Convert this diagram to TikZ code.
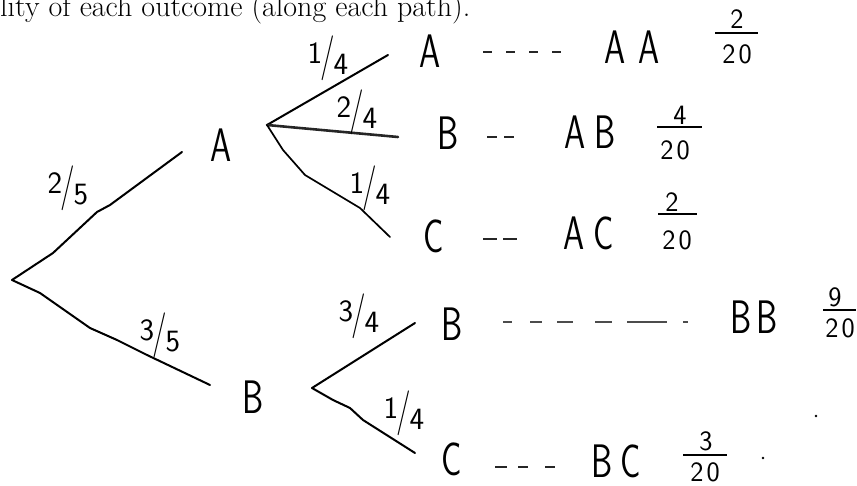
\documentclass[tikz,border=0pt]{standalone}
\usepackage{fontspec}
\usepackage{graphicx}
\newcommand{\hw}[1]{\scalebox{0.72}[1]{#1}}
\newcommand{\slfrac}[2]{\raisebox{0.45ex}{#1}\kern-0.06em\scalebox{1}[1.45]{/}\kern-0.04em\raisebox{-0.4ex}{#2}}
\begin{document}
\begin{tikzpicture}[x=1pt,y=-1pt,
  tree/.style={line width=2pt,line cap=round,line join=round},
  greytree/.style={line width=2.6pt,line cap=round,line join=round,black!85},
  hdash/.style={line width=1.4pt,black!85},
  fbar/.style={line width=1.5pt},
  letter/.style={inner sep=0pt,font=\fontsize{47}{47}\selectfont\sffamily},
  digit/.style={inner sep=0pt,font=\fontsize{28}{28}\selectfont\sffamily},
  slab/.style={inner sep=0pt,font=\fontsize{31}{31}\selectfont\sffamily},
  speck/.style={fill=black,draw=none}]
\useasboundingbox (0,0) rectangle (857,486);
% title
\node[anchor=base west,inner sep=0pt,font=\fontsize{30}{36}\selectfont] (title) at (0,17) {lity of each outcome (along each path).};
% tree coordinates
\coordinate (R) at (12,280);
\coordinate (r1) at (53,253); \coordinate (r2) at (97,212); \coordinate (r3) at (110,205);
\coordinate (Aend) at (182,152);
\coordinate (s1) at (40,293); \coordinate (s2) at (90,328); \coordinate (s3) at (117,340); \coordinate (s4) at (147,355);
\coordinate (Bend) at (210,385);
\coordinate (FA) at (267,125);
\coordinate (FAt) at (388,55);
\coordinate (FAm) at (398,137);
\coordinate (c1) at (283,150); \coordinate (c2) at (305,175); \coordinate (c3) at (360,208);
\coordinate (FAc) at (390,237);
\coordinate (FB) at (312,388);
\coordinate (FBu) at (415,323);
\coordinate (d1) at (333,400); \coordinate (d2) at (350,408); \coordinate (d3) at (363,420);
\coordinate (FBd) at (415,453);
% branches
\draw[tree] (R) -- (r1) -- (r2) -- (r3) -- (Aend);
\draw[tree] (R) -- (s1) -- (s2) -- (s3) -- (s4) -- (Bend);
\draw[tree] (FA) -- (FAt);
\draw[greytree] (FA) -- (FAm);
\draw[tree,line width=1.7pt] (FA) -- (c1) -- (c2) -- (c3) -- (FAc);
\draw[tree] (FB) -- (FBu);
\draw[tree] (FB) -- (d1) -- (d2) -- (d3) -- (FBd);
% branch labels
\node[slab] (l25) at (68,188) {\slfrac{2}{5}};
\node[slab] (l14a) at (328,58) {\slfrac{1}{4}};
\node[slab] (l24) at (357,112) {\slfrac{2}{4}};
\node[slab] (l14b) at (370,188) {\slfrac{1}{4}};
\node[slab] (l35) at (160,335) {\slfrac{3}{5}};
\node[slab] (l34) at (359,316) {\slfrac{3}{4}};
\node[slab] (l14c) at (404,413) {\slfrac{1}{4}};
% letters
\node[letter] (Amid) at (221,145) {\hw{A}};
\node[letter] (Blow) at (253,397) {\hw{B}};
\node[letter] (Atop) at (430,51) {\hw{A}};
\node[letter] (Bmid) at (448,133) {\hw{B}};
\node[letter] (Cmid) at (434,236) {\hw{C}};
\node[letter] (Bup) at (452,324) {\hw{B}};
\node[letter] (Cdn) at (452,459) {\hw{C}};
\node[letter] (AA) at (632,47) {\hw{A}\kern12pt\hw{A}};
\node[letter] (AB) at (590,132) {\hw{A}\kern9pt\hw{B}};
\node[letter] (AC) at (589,233) {\hw{A}\kern9pt\hw{C}};
\node[letter] (BB) at (754,317) {\hw{B}\kern4pt\hw{B}};
\node[letter] (BC) at (616,461) {\hw{B}\kern8pt\hw{C}};
% dashes
\coordinate (aa1) at (483,52); \coordinate (aa2) at (562,52);
\draw[hdash,dash pattern=on 9pt off 14pt] (aa1) -- (aa2);
\coordinate (ab1) at (487,137); \coordinate (ab2) at (515,137);
\draw[hdash,dash pattern=on 10pt off 7pt] (ab1) -- (ab2);
\coordinate (ac1) at (483,239); \coordinate (ac2) at (518,239);
\draw[hdash,dash pattern=on 14pt off 6pt] (ac1) -- (ac2);
\coordinate (bb1) at (503,322); \coordinate (bb2) at (688,322);
\draw[hdash,black!70,dash pattern=on 9pt off 18pt on 12pt off 15pt on 16pt off 22pt on 17pt off 15pt on 40pt off 16pt on 5pt off 40pt] (bb1) -- (bb2);
\coordinate (bc1) at (495,467); \coordinate (bc2) at (555,467);
\draw[hdash,dash pattern=on 12pt off 11pt on 10pt off 17pt on 10pt off 20pt] (bc1) -- (bc2);
% fractions
\node[digit] (n1) at (737,19) {2};
\node[digit] (d1n) at (737,54) {2\kern3pt 0};
\coordinate (b1l) at (715,33); \coordinate (b1r) at (758,33);
\draw[fbar] (b1l) -- (b1r);
\node[digit] (n2) at (680,115) {4};
\node[digit] (d2n) at (675,150) {2\kern3pt 0};
\coordinate (b2l) at (657,127); \coordinate (b2r) at (702,127);
\draw[fbar] (b2l) -- (b2r);
\node[digit] (n3) at (672,202) {2};
\node[digit] (d3n) at (677,240) {2\kern3pt 0};
\coordinate (b3l) at (658,214); \coordinate (b3r) at (697,214);
\draw[fbar] (b3l) -- (b3r);
\node[digit] (n4) at (835,297) {9};
\node[digit] (d4n) at (840,328) {2\kern3pt 0};
\coordinate (b4l) at (823,310); \coordinate (b4r) at (856,310);
\draw[fbar] (b4l) -- (b4r);
\node[digit] (n5) at (706,441) {3};
\node[digit] (d5n) at (705,472) {2\kern3pt 0};
\coordinate (b5l) at (683,455); \coordinate (b5r) at (727,455);
\draw[fbar] (b5l) -- (b5r);
% specks
\fill[speck] (816,416) circle (1.3pt);
\fill[speck] (763,458) circle (1.3pt);
\end{tikzpicture}
\end{document}
